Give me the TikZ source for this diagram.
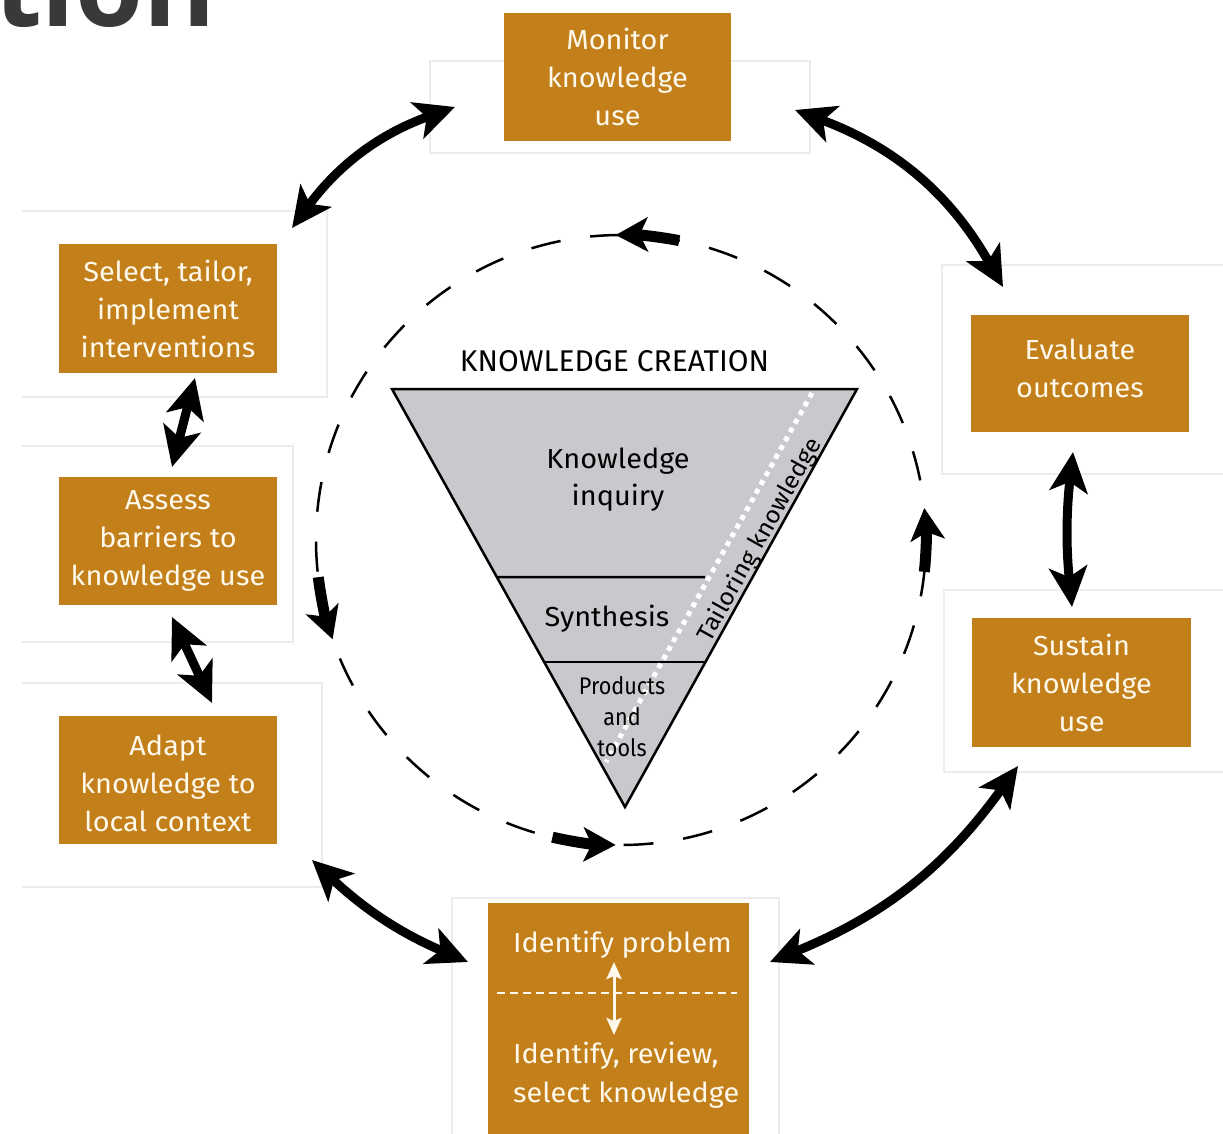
\documentclass[tikz,border=0pt]{standalone}
\usepackage{fontspec}
\setmainfont{Fira Sans}[FakeStretch=1.05]
\newfontfamily\plainfont{Fira Sans}
\newfontfamily\condfont[FakeStretch=0.9]{Fira Sans}
\newfontfamily\titlefont{Open Sans}
\usetikzlibrary{arrows.meta,calc}
\definecolor{boxor}{RGB}{194,127,26}
\definecolor{boxtxt}{RGB}{255,249,236}
\definecolor{trigray}{RGB}{200,201,204}
\definecolor{titlegray}{RGB}{58,57,55}
\definecolor{faint}{RGB}{236,236,236}
\begin{document}
\begin{tikzpicture}[x=1pt,y=1pt,
  stepbox/.style={fill=boxor, text=boxtxt, inner sep=0pt, outer sep=0pt, align=center,
    font=\fontsize{27.5}{38}\selectfont},
  boxtext/.style={text=boxtxt, inner sep=0pt, font=\fontsize{27.5}{38}\selectfont},
  backdrop/.style={draw=faint, line width=1.2pt},
  bigarrow/.style={line width=9pt,
    {Stealth[length=40pt,width=38pt,inset=10pt]}-{Stealth[length=40pt,width=38pt,inset=10pt]}},
  circarrow/.style={line width=11pt, -{Stealth[length=32pt,width=34pt,inset=8pt]}},
  tritext/.style={inner sep=0pt, font=\fontsize{27.5}{37}\selectfont, align=center},
  smalltri/.style={inner sep=0pt, font=\condfont\fontsize{24}{31}\selectfont, align=center},
]
\useasboundingbox (0,0) rectangle (1223,-1134);
\clip (0,0) rectangle (1223,-1134);

% title fragment
\node[anchor=base east, inner sep=0pt, text=titlegray,
  font=\titlefont\bfseries\fontsize{110}{110}\selectfont] (title) at (216,-27) {ation};

% faint backdrops
\draw[backdrop] (430,-61) rectangle (810,-153);
\draw[backdrop] (22,-211) -- (327,-211) -- (327,-397) -- (22,-397);
\draw[backdrop] (22,-446) -- (293,-446) -- (293,-642) -- (22,-642);
\draw[backdrop] (22,-683) -- (322,-683) -- (322,-887) -- (22,-887);
\draw[backdrop] (1230,-265) -- (942,-265) -- (942,-474) -- (1230,-474);
\draw[backdrop] (1230,-590) -- (944,-590) -- (944,-772) -- (1230,-772);
\draw[backdrop] (452,-1140) -- (452,-898) -- (779,-898) -- (779,-1140);

% boxes
\node[stepbox, minimum width=227pt, minimum height=128pt] (mon) at (617.5,-77) {Monitor\\knowledge\\use};
\node[stepbox, minimum width=218pt, minimum height=129pt] (sel) at (168,-308.5) {Select, tailor,\\implement\\interventions};
\node[stepbox, minimum width=218pt, minimum height=128pt] (ass) at (168,-541) {Assess\\barriers to\\knowledge use};
\node[stepbox, minimum width=218pt, minimum height=128pt] (ada) at (168,-780) {};
\node[boxtext, align=center] (adat) at (168,-783) {Adapt\\knowledge to\\local context};
\node[stepbox, minimum width=218pt, minimum height=117pt] (eva) at (1080,-373.5) {};
\node[boxtext, align=center] (evat) at (1080,-368) {Evaluate\\outcomes};
\node[stepbox, minimum width=219pt, minimum height=129pt] (sus) at (1081.5,-682.5) {Sustain\\knowledge\\use};
\node[stepbox, minimum width=261pt, minimum height=247pt, anchor=north west] (idf) at (488,-903) {};
\node[boxtext, anchor=base west] (idtop) at (513,-952) {Identify problem};
\node[boxtext, anchor=base west] (idbot) at (513,-1063) {Identify, review,};
\node[boxtext, anchor=base west] (idbot2) at (513,-1102) {select knowledge};
\coordinate (dl) at (497,-993);
\coordinate (dr) at (737,-993);
\draw[boxtxt, line width=2.2pt, dash pattern=on 8pt off 5pt] (dl) -- (dr);
\coordinate (wa1) at (614,-962);
\coordinate (wa2) at (614,-1035);
\draw[boxtxt, line width=3pt, {Stealth[length=17pt,width=15pt,inset=3pt]}-{Stealth[length=17pt,width=15pt,inset=3pt]}] (wa1) -- (wa2);

% outer cycle arrows
\draw[bigarrow] ($(sel.north east)+(15,16)$) to[bend left=17] ($(mon.west)+(-49,-30)$);
\draw[bigarrow] ($(mon.east)+(64,-33)$) to[bend left=20] ($(eva.north)+(-77,28)$);
\draw[bigarrow] ($(eva.south)+(-7,-20)$) to[bend right=6] ($(sus.north)+(-9.5,11)$);
\draw[bigarrow] ($(idf.north east)+(21,-59)$) to[bend right=16] ($(sus.south west)+(46,-19)$);
\draw[bigarrow] ($(ada.south east)+(35,-16)$) to[bend right=10] ($(idf.north west)+(-20,-59)$);
\draw[bigarrow] ($(ass.south)+(4,-12)$) to ($(ada.north)+(44,13)$);
\draw[bigarrow] ($(sel.south)+(27,-5)$) to ($(ass.north)+(4,10)$);

% dashed circle
\node[circle, draw, line width=2.5pt, dash pattern=on 30pt off 30pt, minimum size=610pt,
  inner sep=0pt, outer sep=0pt] (cyc) at (621,-540) {};
\draw[circarrow] (cyc.79) arc[start angle=79, end angle=91, radius=305pt];
\draw[circarrow] (cyc.187) arc[start angle=187, end angle=199, radius=305pt];
\draw[circarrow] (cyc.257) arc[start angle=257, end angle=269, radius=305pt];
\draw[circarrow] (cyc.354) arc[start angle=354, end angle=366, radius=305pt];

% knowledge creation funnel
\node[inner sep=0pt, anchor=base, font=\plainfont\fontsize{30}{30}\selectfont] (kc) at (614.5,-371) {KNOWLEDGE CREATION};
\coordinate (tl) at (392,-389);
\coordinate (tr) at (857,-389);
\coordinate (ap) at (625,-807);
\draw[fill=trigray, line width=2.5pt, line join=miter] (tl) -- (tr) -- (ap) -- cycle;
\draw[line width=2.5pt] ($(tl)!0.4498!(ap)$) -- (705,-577);
\draw[line width=2.5pt] ($(tl)!0.653!(ap)$) -- ($(tr)!0.653!(ap)$);
\coordinate (dt) at (812,-393);
\coordinate (db) at (606,-762);
\draw[white, line width=5pt, dash pattern=on 5pt off 5pt] (dt) -- (db);
\node[tritext] (ki) at (618,-480) {Knowledge\\inquiry};
\node[tritext, anchor=base] (syn) at (607,-626) {Synthesis};
\node[smalltri] (pt) at (622,-717) {Products\\and\\tools};
\node[inner sep=0pt, rotate=60.85, font=\fontsize{24}{24}\selectfont] (tk) at (760,-540) {Tailoring knowledge};
\end{tikzpicture}
\end{document}
